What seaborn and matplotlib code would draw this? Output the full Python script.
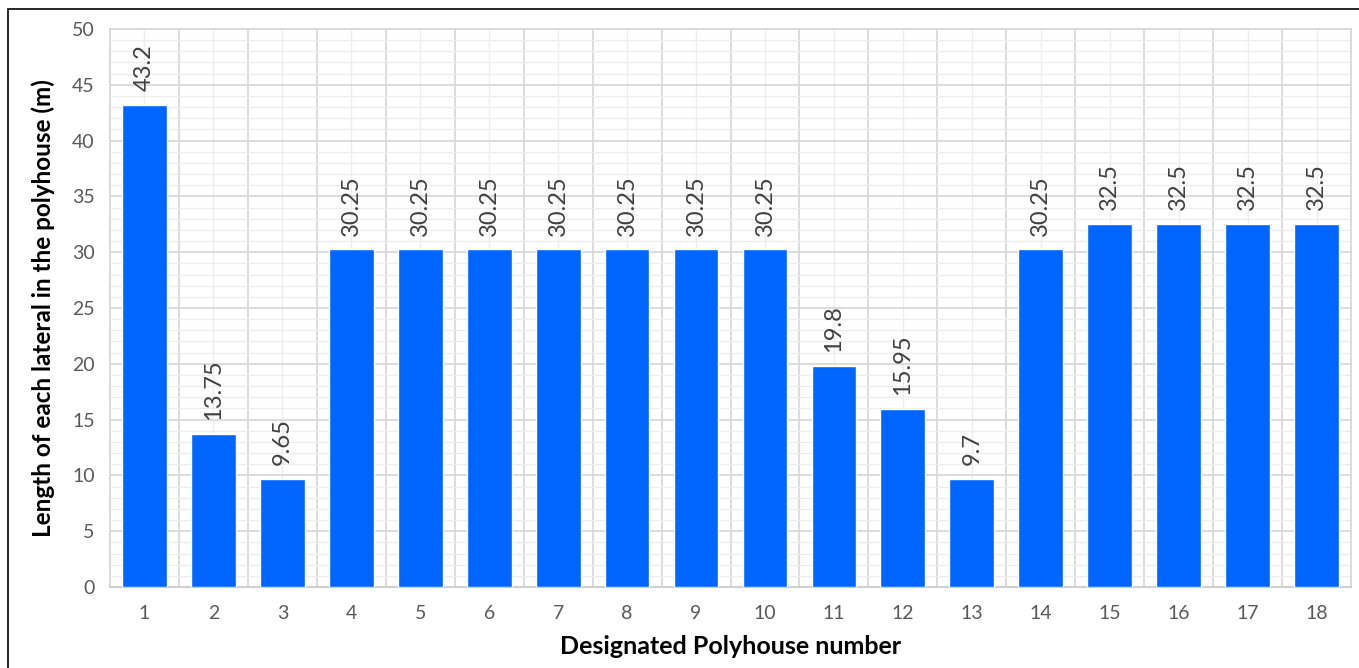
import numpy as np
import pandas as pd
import matplotlib.pyplot as plt
import matplotlib.patches as mpatches
from matplotlib.ticker import MultipleLocator, FixedLocator
import seaborn as sns

polyhouse = [str(i) for i in range(1, 19)]
lateral_length = [43.2, 13.75, 9.65, 30.25, 30.25, 30.25, 30.25, 30.25, 30.25,
                  30.25, 19.8, 15.95, 9.7, 30.25, 32.5, 32.5, 32.5, 32.5]
value_labels = ['43.2', '13.75', '9.65', '30.25', '30.25', '30.25', '30.25', '30.25', '30.25',
                '30.25', '19.8', '15.95', '9.7', '30.25', '32.5', '32.5', '32.5', '32.5']

df = pd.DataFrame({'Polyhouse': polyhouse, 'Length': lateral_length})

sns.set_style('white')
plt.rcParams['font.family'] = ['Lato', 'DejaVu Sans']

fig = plt.figure(figsize=(13.59, 6.68), dpi=100)
ax = fig.add_axes([110 / 1359, 1 - 587 / 668, 1241 / 1359, 558 / 668])

sns.barplot(data=df, x='Polyhouse', y='Length', color='#0066FF', saturation=1,
            width=0.65, ax=ax, zorder=3)

ax.set_ylim(0, 50)
ax.set_xlim(-0.5, 17.5)
ax.yaxis.set_major_locator(MultipleLocator(5))
ax.yaxis.set_minor_locator(MultipleLocator(1))
ax.xaxis.set_minor_locator(FixedLocator(np.arange(-0.5, 18, 1)))
ax.grid(which='major', axis='y', color='#D9D9D9', linewidth=1.3, zorder=0)
ax.grid(which='minor', axis='y', color='#EDEDED', linewidth=1.0, zorder=0)
ax.grid(which='minor', axis='x', color='#D9D9D9', linewidth=1.3, zorder=0)
ax.grid(which='major', axis='x', color='#EDEDED', linewidth=1.0, zorder=0)
ax.set_axisbelow(True)

for s in ['left', 'right', 'top']:
    ax.spines[s].set_color('#D9D9D9')
    ax.spines[s].set_linewidth(1.3)
ax.spines['bottom'].set_color('#D0D0D0')
ax.spines['bottom'].set_linewidth(1.5)

ax.tick_params(axis='both', which='both', length=0, labelsize=14, labelcolor='#595959')
ax.tick_params(axis='x', pad=13)
ax.tick_params(axis='y', pad=11)

for i, (v, t) in enumerate(zip(lateral_length, value_labels)):
    ax.annotate(t, (i, v), xytext=(0, 10), textcoords='offset points',
                rotation=90, ha='center', va='bottom', fontsize=17, color='#404040')

ax.set_xlabel('Designated Polyhouse number', fontsize=18, fontweight='bold', color='black', labelpad=9)
ax.set_ylabel('Length of each lateral in the polyhouse (m)', fontsize=17.5, fontweight='bold',
              color='black', labelpad=12)

# outer border of the chart area
fig.patches.append(mpatches.Rectangle((8 / 1359, -0.05), 1.2, 1 - 9 / 668 + 0.05,
                                      transform=fig.transFigure, fill=False,
                                      edgecolor='black', linewidth=1.2))

fig.savefig('out.png', dpi=100)
